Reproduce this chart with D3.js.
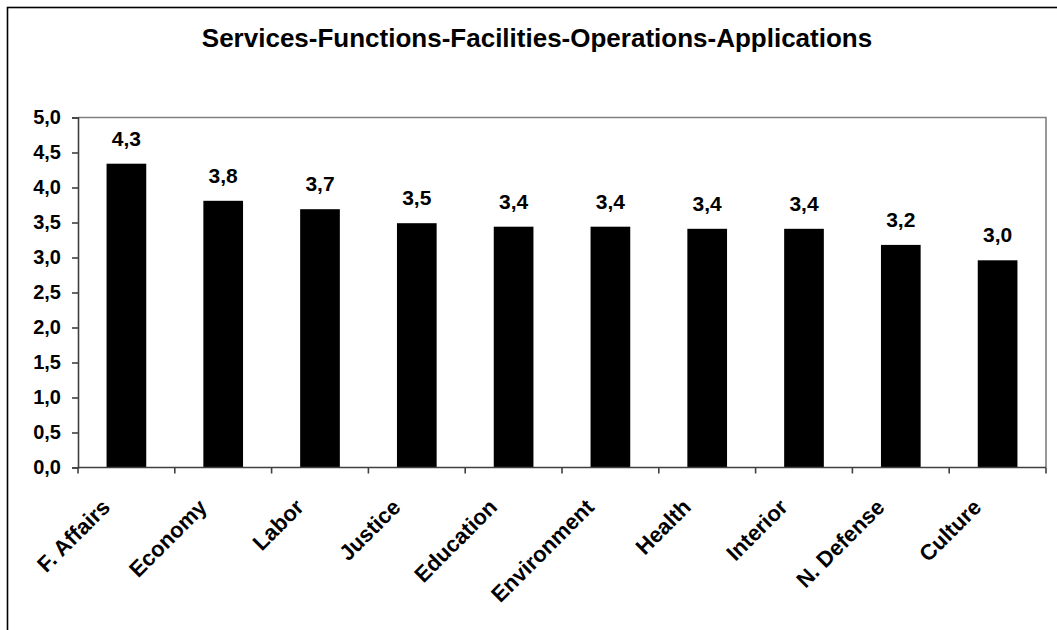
<!DOCTYPE html>
<html>
<head>
<meta charset="utf-8">
<script src="https://cdn.jsdelivr.net/npm/d3@7"></script>
<style>
  html, body { margin: 0; padding: 0; background: #fff; }
  svg { display: block; font-family: "Liberation Sans", Arial, sans-serif; }
</style>
</head>
<body>
<svg id="chart" width="1057" height="630"></svg>
<script>
const title = "Services-Functions-Facilities-Operations-Applications";
const categories = ["F. Affairs", "Economy", "Labor", "Justice", "Education", "Environment", "Health", "Interior", "N. Defense", "Culture"];
const values = [4.34, 3.81, 3.69, 3.49, 3.44, 3.44, 3.41, 3.41, 3.18, 2.96];
const yTicks = [0, 0.5, 1, 1.5, 2, 2.5, 3, 3.5, 4, 4.5, 5];

const svg = d3.select("#chart");
const plot = { left: 78, right: 1046, top: 117.5, bottom: 467.5 };

const fmt = v => d3.format(".1f")(v).replace(".", ",");

// outer frame
svg.append("rect")
  .attr("x", 7.5).attr("y", 7.5)
  .attr("width", 1200).attr("height", 800)
  .attr("fill", "#fff").attr("stroke", "#000").attr("stroke-width", 1.6);

// title
svg.append("text")
  .attr("x", 537).attr("y", 47)
  .attr("text-anchor", "middle")
  .attr("font-size", 26).attr("font-weight", "bold")
  .text(title);

const x = d3.scaleBand().domain(categories).range([plot.left, plot.right]).padding(0);
const y = d3.scaleLinear().domain([0, 5]).range([plot.bottom, plot.top]);
const barW = x.bandwidth() * 0.41;

// plot area border (top & right grey)
svg.append("path")
  .attr("d", `M${plot.left},${plot.top}H${plot.right}V${plot.bottom}`)
  .attr("fill", "none").attr("stroke", "#808080").attr("stroke-width", 1.6);

// bars
svg.append("g").selectAll("rect").data(values).join("rect")
  .attr("x", (d, i) => x(categories[i]) + (x.bandwidth() - barW) / 2)
  .attr("y", d => y(d))
  .attr("width", barW)
  .attr("height", d => y(0) - y(d))
  .attr("fill", "#000");

// value labels
svg.append("g").selectAll("text").data(values).join("text")
  .attr("x", (d, i) => x(categories[i]) + x.bandwidth() / 2)
  .attr("y", d => y(d) - 18)
  .attr("text-anchor", "middle")
  .attr("font-size", 21).attr("font-weight", "bold")
  .text(d => fmt(d));

// y axis
const yAxis = d3.axisLeft(y).tickValues(yTicks).tickFormat(fmt).tickSizeOuter(0).tickSize(6).tickPadding(11);
const gy = svg.append("g").attr("transform", `translate(${plot.left},0)`).call(yAxis);
gy.select(".domain").attr("stroke", "#404040").attr("stroke-width", 1.6);
gy.selectAll(".tick line").attr("stroke", "#404040").attr("stroke-width", 1.6);
gy.selectAll(".tick text").attr("font-size", 20).attr("font-weight", "bold")
  .attr("font-family", "Liberation Sans, Arial, sans-serif").attr("fill", "#000");

// x axis: ticks at band boundaries
const gx = svg.append("g").attr("transform", `translate(0,${plot.bottom})`);
gx.append("line").attr("x1", plot.left).attr("x2", plot.right)
  .attr("stroke", "#404040").attr("stroke-width", 1.6);
const bounds = categories.map(c => x(c)).concat([plot.right]);
gx.selectAll("line.tk").data(bounds).join("line").attr("class", "tk")
  .attr("x1", d => d).attr("x2", d => d).attr("y1", 0).attr("y2", 6)
  .attr("stroke", "#404040").attr("stroke-width", 1.6);
gx.selectAll("text").data(categories).join("text")
  .attr("transform", d => `translate(${x(d) + x.bandwidth() / 2 - 15},${41}) rotate(-45)`)
  .attr("text-anchor", "end")
  .attr("font-size", 22).attr("font-weight", "bold")
  .text(d => d);
</script>
</body>
</html>
